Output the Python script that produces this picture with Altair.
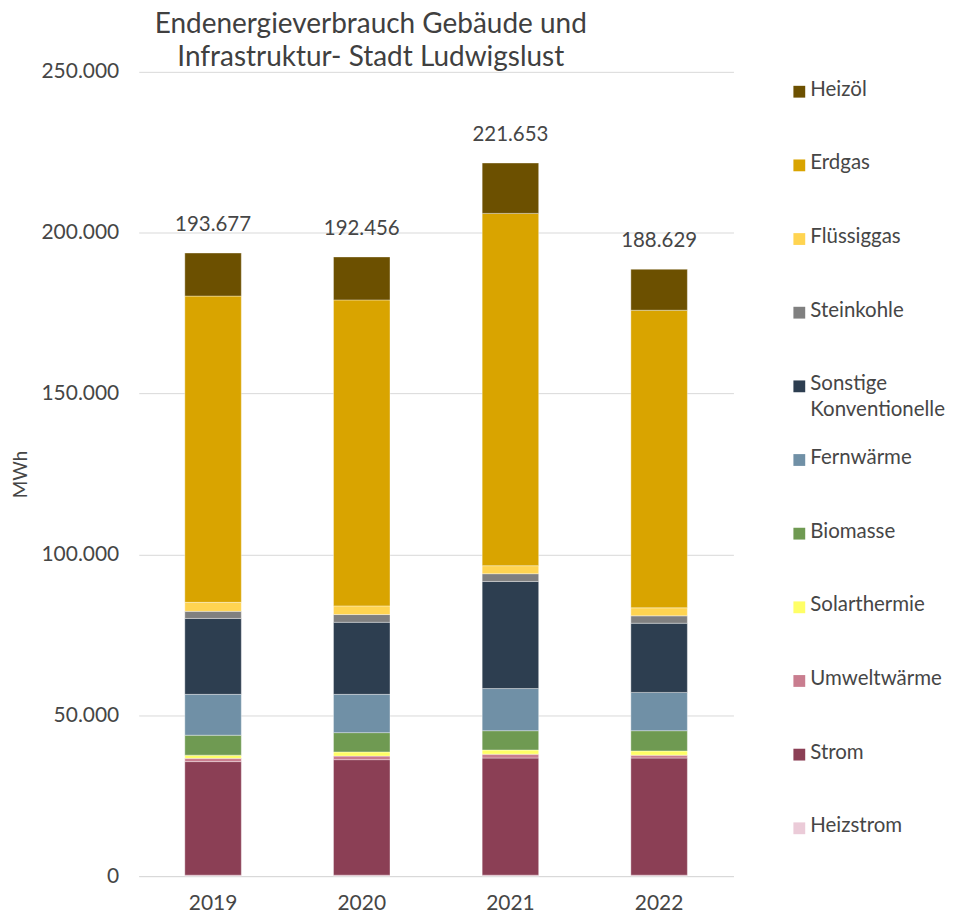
import altair as alt
import pandas as pd

years = ["2019", "2020", "2021", "2022"]

# stack order: bottom -> top
categories = [
    "Heizstrom", "Strom", "Umweltwärme", "Solarthermie", "Biomasse",
    "Fernwärme", "Sonstige Konventionelle", "Steinkohle", "Flüssiggas",
    "Erdgas", "Heizöl",
]
colors = [
    "#EBCBD8", "#8B3F55", "#C97D8F", "#FFFF66", "#6F9A52",
    "#7090A6", "#2D3E50", "#808080", "#FFD451",
    "#D9A400", "#6C5000",
]

heizstrom = [300, 300, 300, 300]
strom = [35300, 35900, 36400, 36400]
umweltwaerme = [1000, 1100, 1200, 900]
solarthermie = [1000, 1300, 1300, 1300]
biomasse = [6200, 6000, 6000, 6300]
fernwaerme = [12700, 11900, 13100, 11900]
sonstige = [23600, 22400, 33300, 21500]
steinkohle = [2200, 2400, 2400, 2300]
fluessiggas = [2800, 2700, 2500, 2500]
erdgas = [95200, 95100, 109500, 92500]
heizoel = [13377, 13356, 15653, 12729]

series = [heizstrom, strom, umweltwaerme, solarthermie, biomasse, fernwaerme,
          sonstige, steinkohle, fluessiggas, erdgas, heizoel]

legend_labels = {"Sonstige Konventionelle": "Sonstige\nKonventionelle"}

FONT = "Lato"
TXT = "#464646"

rows = []
for ci, (cat, vals) in enumerate(zip(categories, series)):
    for yr, v in zip(years, vals):
        rows.append({"Jahr": yr, "Kategorie": cat, "MWh": v, "order": ci})
df = pd.DataFrame(rows)

tot = df.groupby("Jahr")["MWh"].sum()
tot_df = pd.DataFrame({"Jahr": years, "Gesamt": [int(tot[y]) for y in years]})
tot_df["Label"] = tot_df["Gesamt"].map(lambda v: f"{v:,.0f}".replace(",", "."))

color_scale = alt.Scale(domain=categories, range=colors)

bars = alt.Chart(df).mark_bar(stroke="white", strokeWidth=0.8, strokeOpacity=0.45).encode(
    x=alt.X("Jahr:N", sort=years,
            scale=alt.Scale(paddingInner=0.62, paddingOuter=0.31),
            axis=alt.Axis(title=None, labelAngle=0, labelFontSize=21, labelFont=FONT,
                          labelColor=TXT, ticks=False, domain=True, domainColor="#d9d9d9",
                          labelPadding=16, grid=False)),
    y=alt.Y("MWh:Q", stack="zero",
            scale=alt.Scale(domain=[0, 250000], nice=False),
            axis=alt.Axis(values=[0, 50000, 100000, 150000, 200000, 250000],
                          labelExpr="replace(format(datum.value, ',.0f'), ',', '.')",
                          title="MWh", titleFontSize=19, titleFont=FONT, titleColor=TXT,
                          titleFontWeight="normal", titlePadding=10,
                          labelFontSize=21, labelFont=FONT, labelColor=TXT,
                          ticks=False, domain=False, labelPadding=20,
                          gridColor="#d9d9d9", gridWidth=1)),
    color=alt.Color("Kategorie:N", scale=color_scale, legend=None),
    order=alt.Order("order:Q", sort="ascending"),
)

totals = alt.Chart(tot_df).mark_text(baseline="bottom", dy=-18, fontSize=20.5,
                                     font=FONT, color=TXT).encode(
    x=alt.X("Jahr:N", sort=years),
    y=alt.Y("Gesamt:Q"),
    text="Label:N",
)

main = alt.layer(bars, totals).properties(width=596, height=806)

leg_order = categories[::-1]
leg_df = pd.DataFrame({
    "Kategorie": leg_order,
    "Label": [legend_labels.get(c, c) for c in leg_order],
})

leg_y = alt.Y("Kategorie:N", sort=leg_order,
              scale=alt.Scale(type="point", padding=0.27), axis=None)

leg_sq = alt.Chart(leg_df).mark_square(size=140, opacity=1).encode(
    x=alt.value(16),
    y=leg_y,
    color=alt.Color("Kategorie:N", scale=color_scale, legend=None),
)
leg_txt = alt.Chart(leg_df).mark_text(align="left", baseline="top", dy=-12, fontSize=20.5,
                                      font=FONT, color=TXT, lineBreak="\n",
                                      lineHeight=26).encode(
    x=alt.value(27),
    y=leg_y,
    text="Label:N",
)
legend = alt.layer(leg_sq, leg_txt).properties(width=120, height=778)

chart = alt.hconcat(main, legend, spacing=50).properties(
    title=alt.TitleParams(
        ["Endenergieverbrauch Gebäude und", "Infrastruktur- Stadt Ludwigslust"],
        fontSize=28, font=FONT, fontWeight="normal", color="#404040",
        anchor="middle", dx=-108, lineHeight=33, offset=-11,
    ),
    padding={"left": 3, "top": 2, "right": 0, "bottom": 0},
).configure_view(stroke=None)

chart.save("out.html", embed_options={"renderer": "svg", "actions": False})
